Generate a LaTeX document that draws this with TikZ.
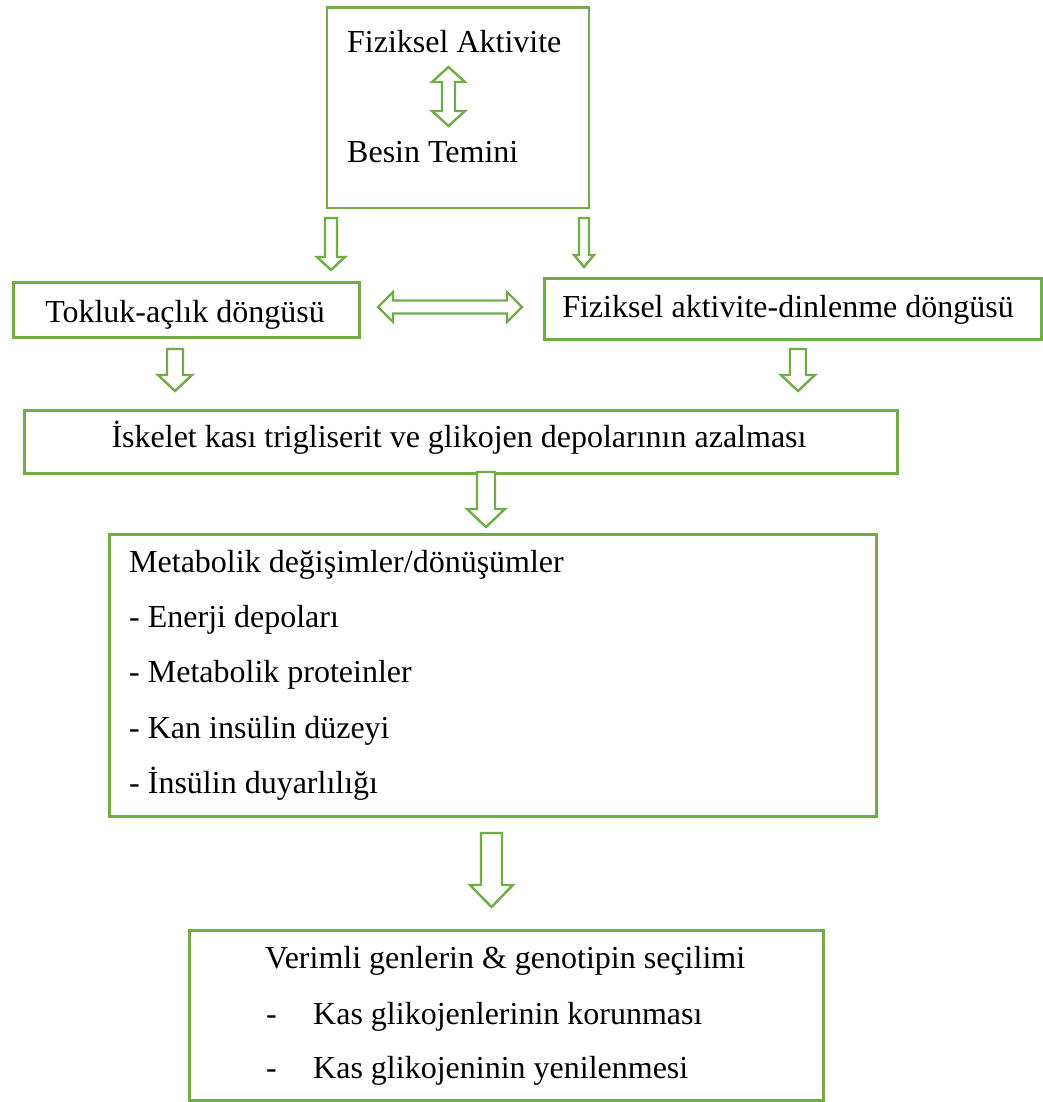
\documentclass[tikz,border=0pt]{standalone}
\usepackage{fontspec}
\setmainfont{Liberation Serif}
\definecolor{offgreen}{HTML}{70AD47}
\newcommand{\myvarrow}[6]{% x, top, headstart, tip, shafthalf, headhalf
  \draw[barrow] ({#1-#5},#2) -- ({#1+#5},#2) -- ({#1+#5},#3) -- ({#1+#6},#3) -- (#1,#4) -- ({#1-#6},#3) -- ({#1-#5},#3) -- cycle;}
\newcommand{\mydvarrow}[6]{% x, top, bottom, headlen, shafthalf, headhalf
  \draw[barrow] (#1,#2) -- ({#1+#6},{#2+#4}) -- ({#1+#5},{#2+#4}) -- ({#1+#5},{#3-#4}) -- ({#1+#6},{#3-#4}) -- (#1,#3) -- ({#1-#6},{#3-#4}) -- ({#1-#5},{#3-#4}) -- ({#1-#5},{#2+#4}) -- ({#1-#6},{#2+#4}) -- cycle;}
\newcommand{\mydharrow}[6]{% y, left, right, headlen, shafthalf, headhalf
  \draw[barrow] (#2,#1) -- ({#2+#4},{#1-#6}) -- ({#2+#4},{#1-#5}) -- ({#3-#4},{#1-#5}) -- ({#3-#4},{#1-#6}) -- (#3,#1) -- ({#3-#4},{#1+#6}) -- ({#3-#4},{#1+#5}) -- ({#2+#4},{#1+#5}) -- ({#2+#4},{#1+#6}) -- cycle;}
\begin{document}
\begin{tikzpicture}[x=1pt,y=-1pt,
  box/.style={draw=offgreen, line width=2.6pt, fill=white, anchor=north west, inner sep=0pt},
  barrow/.style={draw=offgreen, line width=2.4pt, fill=white},
  txt/.style={inner sep=0pt, anchor=base west, font=\fontsize{32}{38}\selectfont},
  ctxt/.style={inner sep=0pt, anchor=base, font=\fontsize{32}{38}\selectfont}]
\useasboundingbox[fill=white] (0,0) rectangle (1043,1102);

% boxes
\node[box, minimum width=262pt, minimum height=200pt] (topbox) at (325.5,6.5) {};
\node[box, minimum width=346pt, minimum height=55pt] (tokluk) at (12,281) {};
\node[box, minimum width=497pt, minimum height=61pt] (fad) at (543,277) {};
\node[box, minimum width=873pt, minimum height=63pt] (iskelet) at (23,409) {};
\node[box, minimum width=767pt, minimum height=282pt] (meta) at (108,533) {};
\node[box, minimum width=634pt, minimum height=170pt] (secim) at (188,929) {};

% texts
\node[txt] (t1) at (347,53) {Fiziksel Aktivite};
\node[txt] (t2) at (347,163) {Besin Temini};
\node[ctxt] (t3) at (185,322) {Tokluk-açlık döngüsü};
\node[ctxt] (t4) at (788,317) {Fiziksel aktivite-dinlenme döngüsü};
\node[ctxt] (t5) at (459,447) {İskelet kası trigliserit ve glikojen depolarının azalması};
\node[txt] (m1) at (129,572) {Metabolik değişimler/dönüşümler};
\node[txt] (m2) at (129,627) {- Enerji depoları};
\node[txt] (m3) at (129,682) {- Metabolik proteinler};
\node[txt] (m4) at (129,738) {- Kan insülin düzeyi};
\node[txt] (m5) at (129,793) {- İnsülin duyarlılığı};
\node[txt] (s1) at (265,968) {Verimli genlerin \& genotipin seçilimi};
\node[txt] (d1) at (266,1024) {-};
\node[txt] (s2) at (313,1024) {Kas glikojenlerinin korunması};
\node[txt] (d2) at (266,1078) {-};
\node[txt] (s3) at (313,1078) {Kas glikojeninin yenilenmesi};

% block arrows
\mydvarrow{448.5}{67}{126}{15}{6.5}{16.5}
\myvarrow{331}{218}{257}{270}{6}{14}
\myvarrow{584}{218}{255}{267}{5}{10}
\mydharrow{307}{378}{522}{15}{6.5}{15}
\myvarrow{175}{349}{375}{391}{8}{17}
\myvarrow{798}{349}{375}{391}{8}{17}
\myvarrow{486}{472}{509}{527}{9}{19}
\myvarrow{491.5}{833}{885}{907}{10.5}{21.5}
\end{tikzpicture}
\end{document}
